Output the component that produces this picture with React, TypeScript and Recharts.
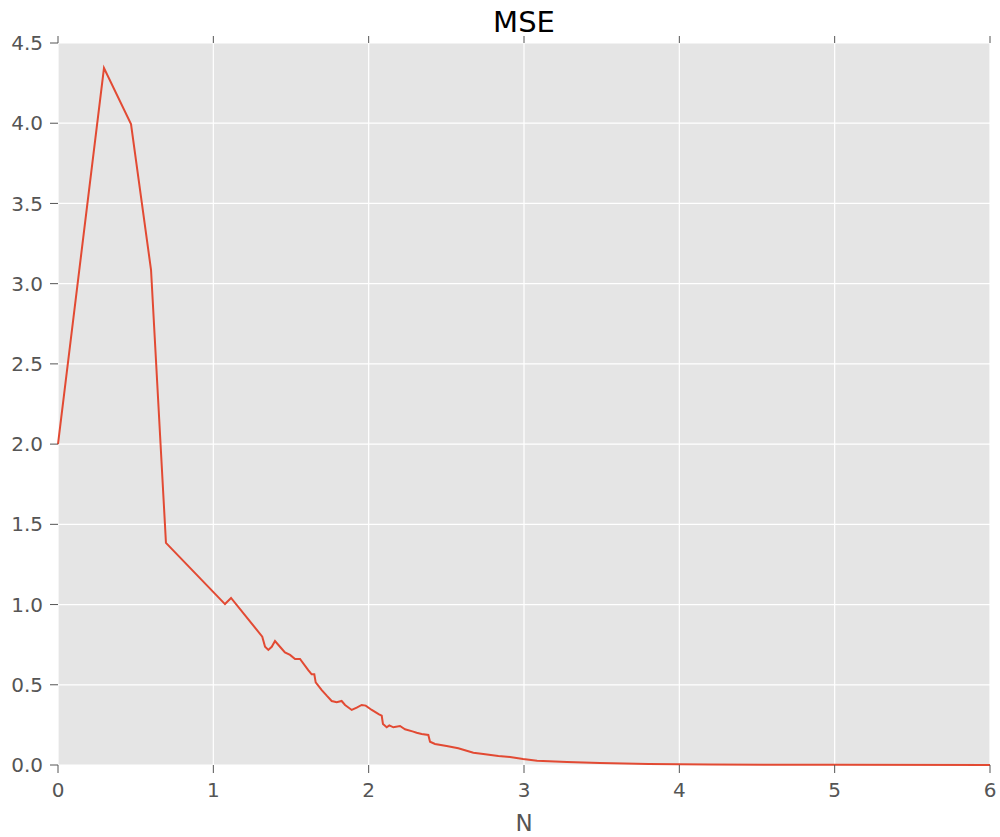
import React from 'react';
import { LineChart, Line, XAxis, YAxis, CartesianGrid } from 'recharts';

const nValues: number[] = [
  0, 0.296, 0.47, 0.599, 0.695, 1.075, 1.114, 1.315, 1.333, 1.354, 1.376, 1.397,
  1.429, 1.461, 1.494, 1.526, 1.558, 1.611, 1.633, 1.65, 1.659, 1.698, 1.73, 1.762,
  1.794, 1.826, 1.848, 1.891, 1.923, 1.955, 1.981, 2.02, 2.067, 2.084, 2.092, 2.116,
  2.133, 2.159, 2.202, 2.234, 2.287, 2.309, 2.341, 2.384, 2.395, 2.427, 2.502, 2.577,
  2.631, 2.674, 2.738, 2.835, 2.91, 2.994, 3.084, 3.277, 3.489, 3.8, 4.2, 5.0, 6.0,
];
const mseValues: number[] = [
  2.0, 4.344, 3.995, 3.085, 1.384, 1.003, 1.041, 0.8, 0.737, 0.717, 0.737, 0.773,
  0.737, 0.702, 0.686, 0.661, 0.661, 0.592, 0.565, 0.565, 0.515, 0.467, 0.432, 0.399,
  0.391, 0.399, 0.374, 0.343, 0.357, 0.374, 0.37, 0.343, 0.316, 0.307, 0.256, 0.235,
  0.247, 0.235, 0.243, 0.223, 0.208, 0.201, 0.193, 0.187, 0.145, 0.131, 0.118, 0.104,
  0.089, 0.077, 0.069, 0.056, 0.05, 0.037, 0.027, 0.019, 0.012, 0.006, 0.003, 0.001, 0.0005,
];
const xTicks: number[] = [0, 1, 2, 3, 4, 5, 6];
const yTicks: number[] = [0, 0.5, 1, 1.5, 2, 2.5, 3, 3.5, 4, 4.5];

const data = nValues.map((n, i) => ({ n, mse: mseValues[i] }));

const FONT = 'DejaVu Sans';
const tickStyle = { fill: '#555555', fontSize: 20, fontFamily: FONT };
const blank = () => '';

export default function App() {
  return (
    <div style={{ position: 'absolute', left: 0, top: 0, width: 1000, height: 837, background: '#fff' }}>
      <LineChart
        width={1000}
        height={837}
        data={data}
        margin={{ top: 0, right: 0, left: 0, bottom: 0 }}
      >
        <CartesianGrid fill="#E5E5E5" stroke="#ffffff" strokeWidth={1.2} />
        <XAxis
          dataKey="n"
          type="number"
          domain={[0, 6]}
          ticks={xTicks}
          height={72}
          axisLine={false}
          tickSize={8}
          tickMargin={10}
          tickLine={{ stroke: '#555555' }}
          tick={tickStyle}
          interval={0}
        />
        <XAxis
          xAxisId="top"
          orientation="top"
          dataKey="n"
          type="number"
          domain={[0, 6]}
          ticks={xTicks}
          height={43}
          axisLine={false}
          tickSize={7}
          tickLine={{ stroke: '#555555' }}
          tickFormatter={blank}
          interval={0}
        />
        <YAxis
          type="number"
          domain={[0, 4.5]}
          ticks={yTicks}
          width={58}
          axisLine={false}
          tickSize={8}
          tickMargin={7}
          tickLine={{ stroke: '#555555' }}
          tick={tickStyle}
          tickFormatter={(v: number) => v.toFixed(1)}
          interval={0}
        />
        <YAxis
          yAxisId="right"
          orientation="right"
          type="number"
          domain={[0, 4.5]}
          ticks={yTicks}
          width={10}
          axisLine={false}
          tickSize={7}
          tickLine={{ stroke: '#555555' }}
          tickFormatter={blank}
          interval={0}
        />
        <Line
          type="linear"
          dataKey="mse"
          stroke="#E24A33"
          strokeWidth={2}
          dot={false}
          isAnimationActive={false}
        />
      </LineChart>
      <div
        style={{
          position: 'absolute',
          left: 58,
          width: 932,
          top: 8,
          textAlign: 'center',
          fontFamily: FONT,
          fontSize: 29,
          lineHeight: '29px',
          color: '#000',
        }}
      >
        MSE
      </div>
      <div
        style={{
          position: 'absolute',
          left: 58,
          width: 932,
          top: 812,
          textAlign: 'center',
          fontFamily: FONT,
          fontSize: 23,
          lineHeight: '23px',
          color: '#555555',
        }}
      >
        N
      </div>
    </div>
  );
}
